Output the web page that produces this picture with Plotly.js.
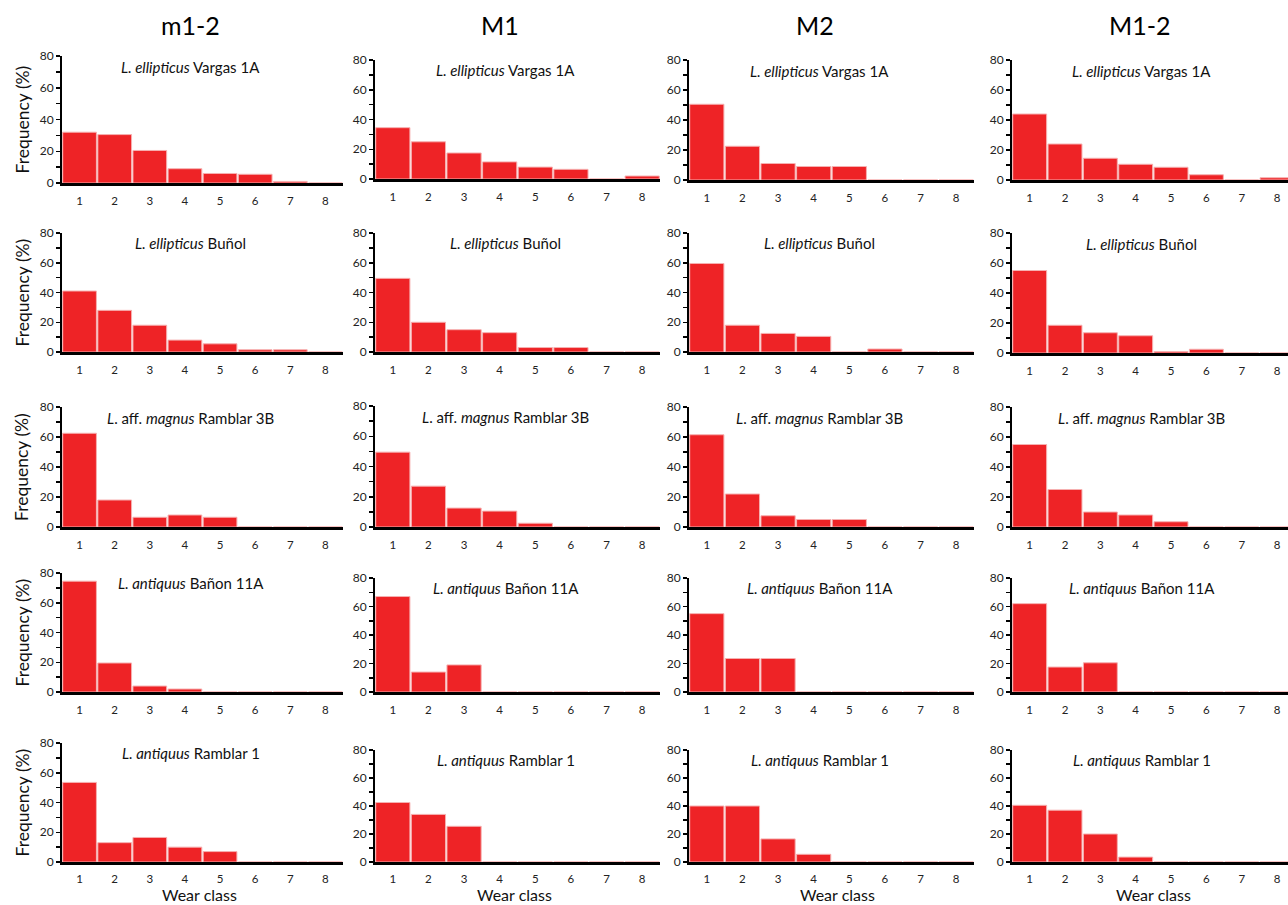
<!DOCTYPE html>
<html>
<head>
<meta charset="utf-8">
<script src="https://cdn.plot.ly/plotly-3.0.1.min.js"></script>
<style>html,body{margin:0;padding:0;background:#fff}#chart{width:1288px;height:905px}</style>
</head>
<body>
<div id="chart"></div>
<script>
// Wear classes
const wearClasses = [1, 2, 3, 4, 5, 6, 7, 8];
const columnTitles = ["m1-2", "M1", "M2", "M1-2"];
const panelTitles = [
  "<i>L. ellipticus</i> Vargas 1A",
  "<i>L. ellipticus</i> Buñol",
  "<i>L</i>. aff. <i>magnus</i> Ramblar 3B",
  "<i>L. antiquus</i> Bañon 11A",
  "<i>L. antiquus</i> Ramblar 1"
];
const yTickVals = [0, 20, 40, 60, 80];

// Frequencies (%) per population, columns m1-2, M1, M2, M1-2
const vargas_m12 = [32, 30.5, 20.5, 9, 6, 5.5, 1, 0];
const vargas_M1  = [34.5, 25, 17.5, 11.5, 8, 6.5, 0, 2];
const vargas_M2  = [50.5, 22.5, 11, 9, 9, 0, 0, 0];
const vargas_M12 = [44, 24, 14.5, 10.5, 8.5, 3.5, 0, 1.5];

const bunol_m12 = [41, 28, 18, 8, 5.5, 1.5, 1.5, 0];
const bunol_M1  = [49.5, 20, 15, 13, 3, 3, 0, 0];
const bunol_M2  = [59.5, 18, 12.5, 10.5, 0, 2, 0, 0];
const bunol_M12 = [55, 18.5, 13.5, 11.5, 1, 2.5, 0, 0];

const ramblar3b_m12 = [62.5, 18, 6.5, 8, 6.5, 0, 0, 0];
const ramblar3b_M1  = [49.5, 27, 12.5, 10.5, 2.5, 0, 0, 0];
const ramblar3b_M2  = [61.5, 22, 7.5, 5, 5, 0, 0, 0];
const ramblar3b_M12 = [55, 25, 10, 8, 3.5, 0, 0, 0];

const banon11a_m12 = [74.5, 19.5, 4, 2, 0, 0, 0, 0];
const banon11a_M1  = [67, 14, 19, 0, 0, 0, 0, 0];
const banon11a_M2  = [55, 23.5, 23.5, 0, 0, 0, 0, 0];
const banon11a_M12 = [62, 17.5, 20.5, 0, 0, 0, 0, 0];

const ramblar1_m12 = [53.5, 13, 16.5, 10, 7, 0, 0, 0];
const ramblar1_M1  = [42.5, 34, 25.5, 0, 0, 0, 0, 0];
const ramblar1_M2  = [40, 40, 16.5, 5.5, 0, 0, 0, 0];
const ramblar1_M12 = [40.5, 37, 20, 3.5, 0, 0, 0, 0];

const rows = [
  [vargas_m12, vargas_M1, vargas_M2, vargas_M12],
  [bunol_m12, bunol_M1, bunol_M2, bunol_M12],
  [ramblar3b_m12, ramblar3b_M1, ramblar3b_M2, ramblar3b_M12],
  [banon11a_m12, banon11a_M1, banon11a_M2, banon11a_M12],
  [ramblar1_m12, ramblar1_M1, ramblar1_M2, ramblar1_M12]
];

// ---- layout geometry (pixels) ----
const W = 1288, H = 905;
const colLeft  = [62, 375, 689, 1012];
const colRight = [343, 660, 974, 1288];
const xRangeEnd = [8.5, 8.5, 8.5, 8.31];
const rowTop = [[56,60,60,60],[233,233,233,233],[407,406,407,407],[573,578,578,578],[743,750,750,750]];
const rowBot = [[183,179,180,180],[352,352,352,353],[527,527,527,527],[692,692,692,692],[862,862,862,862]];
const FONT = "Lato, 'Open Sans', sans-serif";
const RED = "#EE2326";

const data = [];
const layout = {
  width: W, height: H,
  margin: {l: 0, r: 0, t: 0, b: 0},
  paper_bgcolor: "#fff", plot_bgcolor: "rgba(0,0,0,0)",
  showlegend: false,
  bargap: 0.04,
  font: {family: FONT, color: "#222"},
  annotations: []
};

for (let r = 0; r < 5; r++) {
  for (let c = 0; c < 4; c++) {
    const k = r * 4 + c + 1;
    const xa = "x" + (k === 1 ? "" : k), ya = "y" + (k === 1 ? "" : k);
    data.push({
      type: "bar", x: wearClasses, y: rows[r][c], xaxis: xa, yaxis: ya,
      marker: {color: RED, line: {color: "#F6B0B0", width: 1}},
      hoverinfo: "x+y"
    });
    layout["xaxis" + (k === 1 ? "" : k)] = {
      domain: [colLeft[c] / W, colRight[c] / W],
      anchor: ya, range: [0.5, xRangeEnd[c]],
      tickvals: wearClasses, ticktext: wearClasses.map(String),
      showline: true, linecolor: "#000", linewidth: 2.5,
      ticks: "", showgrid: false, zeroline: false,
      ticklabelstandoff: r === 4 ? 5 : 6,
      tickfont: {size: 11.5, family: FONT, color: "#222"}
    };
    layout["yaxis" + (k === 1 ? "" : k)] = {
      domain: [1 - rowBot[r][c] / H, 1 - rowTop[r][c] / H],
      anchor: xa, range: [0, 80],
      tickvals: yTickVals, ticktext: yTickVals.map(String),
      showline: true, linecolor: "#000", linewidth: 2,
      ticks: "outside", ticklen: 4, tickwidth: 1.5, tickcolor: "#000",
      minor: {dtick: 10, tick0: 0, ticks: "outside", ticklen: 4, tickwidth: 1.5, tickcolor: "#000", showgrid: false},
      showgrid: false, zeroline: false,
      tickfont: {size: 12, family: FONT, color: "#222"}
    };
    layout.annotations.push({
      text: panelTitles[r], xref: xa, yref: ya, x: 4.17, y: 73,
      xanchor: "center", yanchor: "middle", showarrow: false,
      font: {size: 15, family: FONT, color: "#111"}
    });
  }
  // y-axis title on first column
  const yc = (rowTop[r][0] + rowBot[r][0]) / 2;
  layout.annotations.push({
    text: "Frequency (%)", xref: "paper", yref: "paper",
    x: 22 / W, y: 1 - yc / H, xanchor: "center", yanchor: "middle",
    textangle: -90, showarrow: false,
    font: {size: 17.5, family: FONT, color: "#111"}
  });
}

const colTitleX = [190, 500, 815, 1140];
const wearX = [199, 514, 837, 1153];
for (let c = 0; c < 4; c++) {
  layout.annotations.push({
    text: columnTitles[c], xref: "paper", yref: "paper",
    x: colTitleX[c] / W, y: 1 - 25 / H, xanchor: "center", yanchor: "middle",
    showarrow: false, font: {size: 25, family: FONT, color: "#000"}
  });
  layout.annotations.push({
    text: "Wear class", xref: "paper", yref: "paper",
    x: wearX[c] / W, y: 0, xanchor: "center", yanchor: "bottom",
    borderpad: 0,
    showarrow: false, font: {size: 16, family: FONT, color: "#111"}
  });
}

Plotly.newPlot("chart", data, layout, {staticPlot: true});
</script>
</body>
</html>
